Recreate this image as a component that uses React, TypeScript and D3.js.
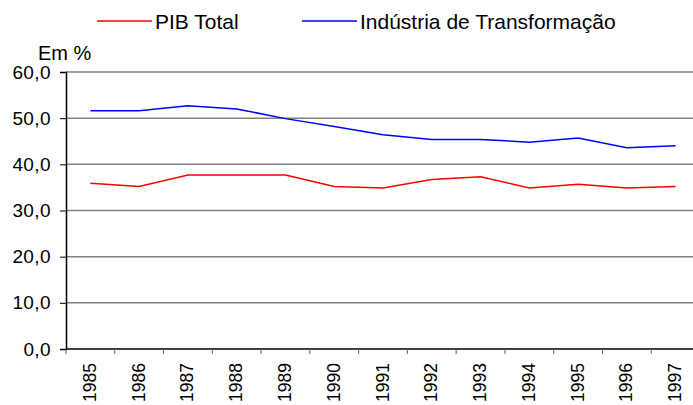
import React, { useEffect, useRef } from 'react'
import * as d3 from 'd3'

const years = ['1985', '1986', '1987', '1988', '1989', '1990', '1991', '1992', '1993', '1994', '1995', '1996', '1997']
const pibTotal = [35.9, 35.2, 37.7, 37.7, 37.7, 35.2, 34.9, 36.7, 37.3, 34.9, 35.7, 34.9, 35.2]
const industria = [51.6, 51.6, 52.7, 52.0, 49.9, 48.2, 46.4, 45.4, 45.4, 44.8, 45.7, 43.6, 44.0]
const yTicks = [0, 10, 20, 30, 40, 50, 60]

const W = 693
const H = 405
const FONT = '"Liberation Sans", Arial, sans-serif'

const App: React.FC = () => {
  const svgRef = useRef<SVGSVGElement>(null)

  useEffect(() => {
    const svg = d3.select(svgRef.current)
    svg.selectAll('*').remove()

    const x = d3.scaleBand<string>().domain(years).range([66, 700])
    const y = d3.scaleLinear().domain([0, 60]).range([349, 72])

    // gridlines
    svg.append('g')
      .selectAll('line')
      .data(yTicks.filter(d => d > 0))
      .enter()
      .append('line')
      .attr('x1', 66)
      .attr('x2', W)
      .attr('y1', d => y(d))
      .attr('y2', d => y(d))
      .attr('stroke', '#808080')
      .attr('stroke-width', 1.5)

    // y axis
    const yAxis = svg.append('g')
      .attr('transform', 'translate(66,0)')
      .call(d3.axisLeft(y).tickValues(yTicks).tickSize(6).tickPadding(9).tickFormat(d => d3.format('.1f')(d as number).replace('.', ',')))
    yAxis.select('.domain').attr('stroke', '#000').attr('stroke-width', 1.5)
    yAxis.selectAll('.tick line').attr('stroke', '#000')
    yAxis.selectAll('.tick text')
      .attr('font-family', FONT)
      .attr('font-size', 19)
      .attr('letter-spacing', 0.4)
      .attr('fill', '#000')

    // x axis
    const xAxis = svg.append('g')
      .attr('transform', 'translate(0,349)')
    xAxis.append('line')
      .attr('x1', 66).attr('x2', W)
      .attr('y1', 0).attr('y2', 0)
      .attr('stroke', '#000').attr('stroke-width', 1.5)
    xAxis.selectAll('.sep')
      .data(years)
      .enter()
      .append('line')
      .attr('class', 'sep')
      .attr('x1', d => x(d)!)
      .attr('x2', d => x(d)!)
      .attr('y1', 0).attr('y2', 5)
      .attr('stroke', '#606060')
      .attr('stroke-width', 1)
    xAxis.selectAll('.lbl')
      .data(years)
      .enter()
      .append('text')
      .attr('class', 'lbl')
      .attr('transform', d => `translate(${x(d)! + x.bandwidth() / 2 + 5.5},14) rotate(-90)`)
      .attr('text-anchor', 'end')
      .attr('font-family', FONT)
      .attr('font-size', 17.5)
      .attr('fill', '#000')
      .text(d => d)

    // lines
    const line = d3.line<number>()
      .x((_, i) => x(years[i])! + x.bandwidth() / 2)
      .y(d => y(d))

    svg.append('path')
      .datum(pibTotal)
      .attr('fill', 'none')
      .attr('stroke', '#ff0000')
      .attr('stroke-width', 1.5)
      .attr('d', line)

    svg.append('path')
      .datum(industria)
      .attr('fill', 'none')
      .attr('stroke', '#0000ff')
      .attr('stroke-width', 1.5)
      .attr('d', line)

    // unit label
    svg.append('text')
      .attr('x', 38)
      .attr('y', 60)
      .attr('font-family', FONT)
      .attr('font-size', 20)
      .attr('fill', '#000')
      .text('Em %')

    // legend
    const legend = [
      { label: 'PIB Total', color: '#ff0000', x: 97 },
      { label: 'Indústria de Transformação', color: '#0000ff', x: 302 },
    ]
    legend.forEach(l => {
      svg.append('line')
        .attr('x1', l.x).attr('x2', l.x + 55)
        .attr('y1', 21).attr('y2', 21)
        .attr('stroke', l.color)
        .attr('stroke-width', 1.5)
      svg.append('text')
        .attr('x', l.x + 58)
        .attr('y', 29)
        .attr('font-family', FONT)
        .attr('font-size', 21)
        .attr('fill', '#000')
        .text(l.label)
    })
  }, [])

  return (
    <svg ref={svgRef} width={W} height={H} style={{ position: 'absolute', left: 0, top: 0, background: '#fff' }}></svg>
  )
}

export default App
